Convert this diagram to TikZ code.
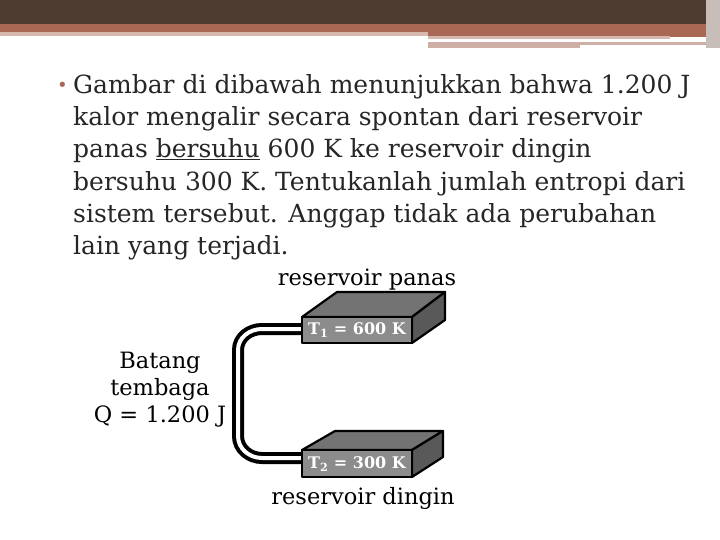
\documentclass[tikz,border=0pt]{standalone}
\usepackage{fontspec}
\setmainfont{DejaVu Serif}
\newfontfamily\lblfont{DejaVu Serif}
\begin{document}
\begin{tikzpicture}[x=1pt,y=-1pt,
  body/.style={anchor=west,font=\fontsize{25}{30}\selectfont,text=black!85,inner sep=0},
  lbl/.style={font=\lblfont\fontsize{22.5}{27}\selectfont,inner sep=0},
  blbl/.style={font=\lblfont\bfseries\fontsize{16}{20}\selectfont,inner sep=0},
  face/.style={draw=black,line width=2.2pt,line join=round},
  rod/.style={line width=4pt,double=white,double distance=4pt,draw=black}]
\useasboundingbox (0,0) rectangle (720,540);
\fill[white] (0,0) rectangle (720,540);
% header
\fill[fill={rgb,255:red,77;green,60;blue,47}] (0,0) rectangle (720,24);
\fill[fill={rgb,255:red,168;green,104;blue,83}] (0,24) rectangle (720,33);
\fill[fill={rgb,255:red,168;green,104;blue,83}] (428,33) rectangle (710,37);
\fill[fill={rgb,255:red,214;green,184;blue,174}] (0,32) rectangle (428,36);
\fill[fill={rgb,255:red,214;green,184;blue,174}] (428,36) rectangle (670,39);
\fill[fill={rgb,255:red,205;green,175;blue,165}] (428,42) rectangle (580,48);
\fill[fill={rgb,255:red,205;green,175;blue,165}] (580,42) rectangle (706,45);
\fill[fill={rgb,255:red,200;green,190;blue,185}] (706,0) rectangle (720,48);
% text
\node[anchor=west,inner sep=0,text={rgb,255:red,168;green,104;blue,83},font=\fontsize{18}{20}\selectfont] (b) at (57,87) {•};
\node[body] (l1) at (73,87) {Gambar di dibawah menunjukkan bahwa 1.200 J};
\node[body] (l2) at (73,119) {kalor mengalir secara spontan dari reservoir};
\node[body] (l3) at (73,151) {panas \underline{bersuhu} 600 K ke reservoir dingin};
\node[body] (l4) at (73,184) {bersuhu 300 K. Tentukanlah jumlah entropi dari};
\node[body] (l5) at (73,216) {sistem tersebut. Anggap tidak ada perubahan};
\node[body] (l6) at (73,248) {lain yang terjadi.};
% rods
\draw[rod] (304,329) -- (262,329) to[out=180,in=90] (238,350) -- (238,436) to[out=-90,in=180] (262,458) -- (304,458);
% top box
\draw[face,fill=black!55] (302,317) -- (337,292) -- (445,292) -- (412,317) -- cycle;
\draw[face,fill=black!65] (412,317) -- (445,292) -- (445,320) -- (412,343) -- cycle;
\draw[face,fill=black!45] (302,317) rectangle (412,343);
\node[blbl,text=white] (t1) at (357,330) {T\textsubscript{1} = 600 K};
% bottom box
\draw[face,fill=black!55] (302,450) -- (335,431) -- (443,431) -- (412,450) -- cycle;
\draw[face,fill=black!65] (412,450) -- (443,431) -- (443,457) -- (412,477) -- cycle;
\draw[face,fill=black!45] (302,450) rectangle (412,477);
\node[blbl,text=white] (t2) at (357,464) {T\textsubscript{2} = 300 K};
% labels
\node[lbl] (rp) at (367,280) {reservoir panas};
\node[lbl] (rd) at (363,498) {reservoir dingin};
\node[lbl,align=center] (bt) at (160,390) {Batang\\tembaga\\Q = 1.200 J};
\end{tikzpicture}
\end{document}
